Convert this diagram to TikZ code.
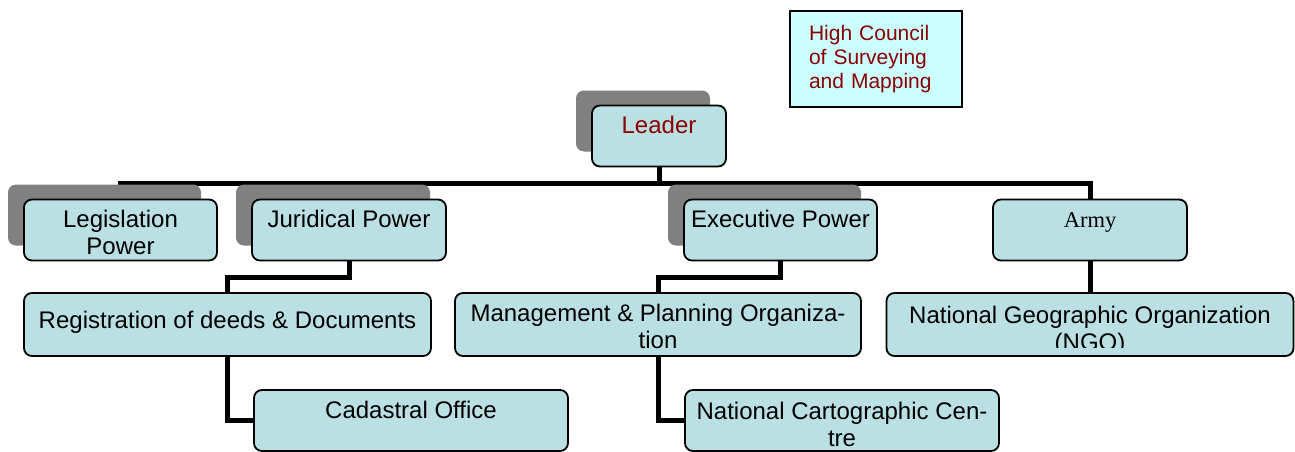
\documentclass[tikz,border=0pt]{standalone}
\usepackage{fontspec}
\setmainfont{Liberation Sans}
\newfontfamily\timesfont{Liberation Serif}
\usetikzlibrary{shadows,backgrounds}

\definecolor{boxblue}{HTML}{BBE0E3}
\definecolor{shadegray}{HTML}{808080}
\definecolor{councilcyan}{HTML}{CCFFFF}
\definecolor{leaderred}{HTML}{8B0000}

\begin{document}
\begin{tikzpicture}[x=1pt,y=-1pt,
  unit/.style={draw,line width=1.8pt,rounded corners=8pt,fill=boxblue,inner sep=0pt,minimum height=61pt},
  shaded/.style={drop shadow={shadow xshift=-16pt,shadow yshift=15pt,fill=shadegray,opacity=1}},
  txt/.style={anchor=north,align=center,inner sep=0pt,yshift=-11pt,font=\fontsize{24}{27}\selectfont},
  link/.style={line width=5pt}]
\useasboundingbox (0,0) rectangle (1295,452);
% top
\node [draw,line width=1.2pt,fill=councilcyan,text=leaderred,align=left,text width=134pt,inner xsep=19pt,
  minimum height=96pt,font=\fontsize{21}{24}\selectfont] (council) at (876,59) {High Council\\of Surveying\\and Mapping};
\node [unit,shaded,minimum width=134pt,label={[txt,text=leaderred]north:Leader}] (leader) at (659,136) {};
% first row
\node [unit,shaded,minimum width=193pt,label={[txt]north:Legislation\\Power}] (leg) at (120.5,230) {};
\node [unit,shaded,minimum width=194pt,label={[txt]north:Juridical Power}] (jur) at (349,230) {};
\node [unit,shaded,minimum width=193pt,label={[txt]north:Executive Power}] (exe) at (780.5,230) {};
\node [unit,minimum width=194pt,label={[txt,yshift=-3pt,font=\timesfont\fontsize{22.5}{26}\selectfont]north:Army}] (army) at (1090,230) {};
% second row
\node [unit,minimum width=407pt,minimum height=63pt,label={[txt,yshift=-8pt]north:Registration of deeds \& Documents}] (reg) at (227.5,324.5) {};
\node [unit,minimum width=406pt,minimum height=63pt,label={[txt,yshift=-1pt]north:Management \& Planning Organiza-\\tion}] (mgmt) at (658,324.5) {};
\node [unit,minimum width=407pt,minimum height=63pt] (ngo) at (1090,324.5) {};
\begin{scope}
  \clip ([yshift=9pt]ngo.south west) rectangle (ngo.north east);
  \node [txt,yshift=-3pt] (ngotext) at (ngo.north) {National Geographic Organization\\(NGO)};
\end{scope}
% third row
\node [unit,minimum width=314pt,label={[txt,yshift=-1pt]north:Cadastral Office}] (cad) at (411,420.5) {};
\node [unit,minimum width=314pt,label={[txt,yshift=-2pt]north:National Cartographic Cen-\\tre}] (ncc) at (842,420.5) {};
% connectors
\begin{scope}[on background layer]
  \draw [link] (leader.south) -- ++(0,16) coordinate (bus);
  \foreach \kid in {leg,jur,exe,army}
    \draw [link] (bus) -| (\kid.north);
  \draw [link] (jur.south) -- ++(0,16) -| (reg.north);
  \draw [link] (exe.south) -- ++(0,16) -| (mgmt.north);
  \draw [link] (army.south) -- (ngo.north);
  \draw [link] (reg.south) |- (cad.west);
  \draw [link] (mgmt.south) |- (ncc.west);
\end{scope}
\end{tikzpicture}
\end{document}
